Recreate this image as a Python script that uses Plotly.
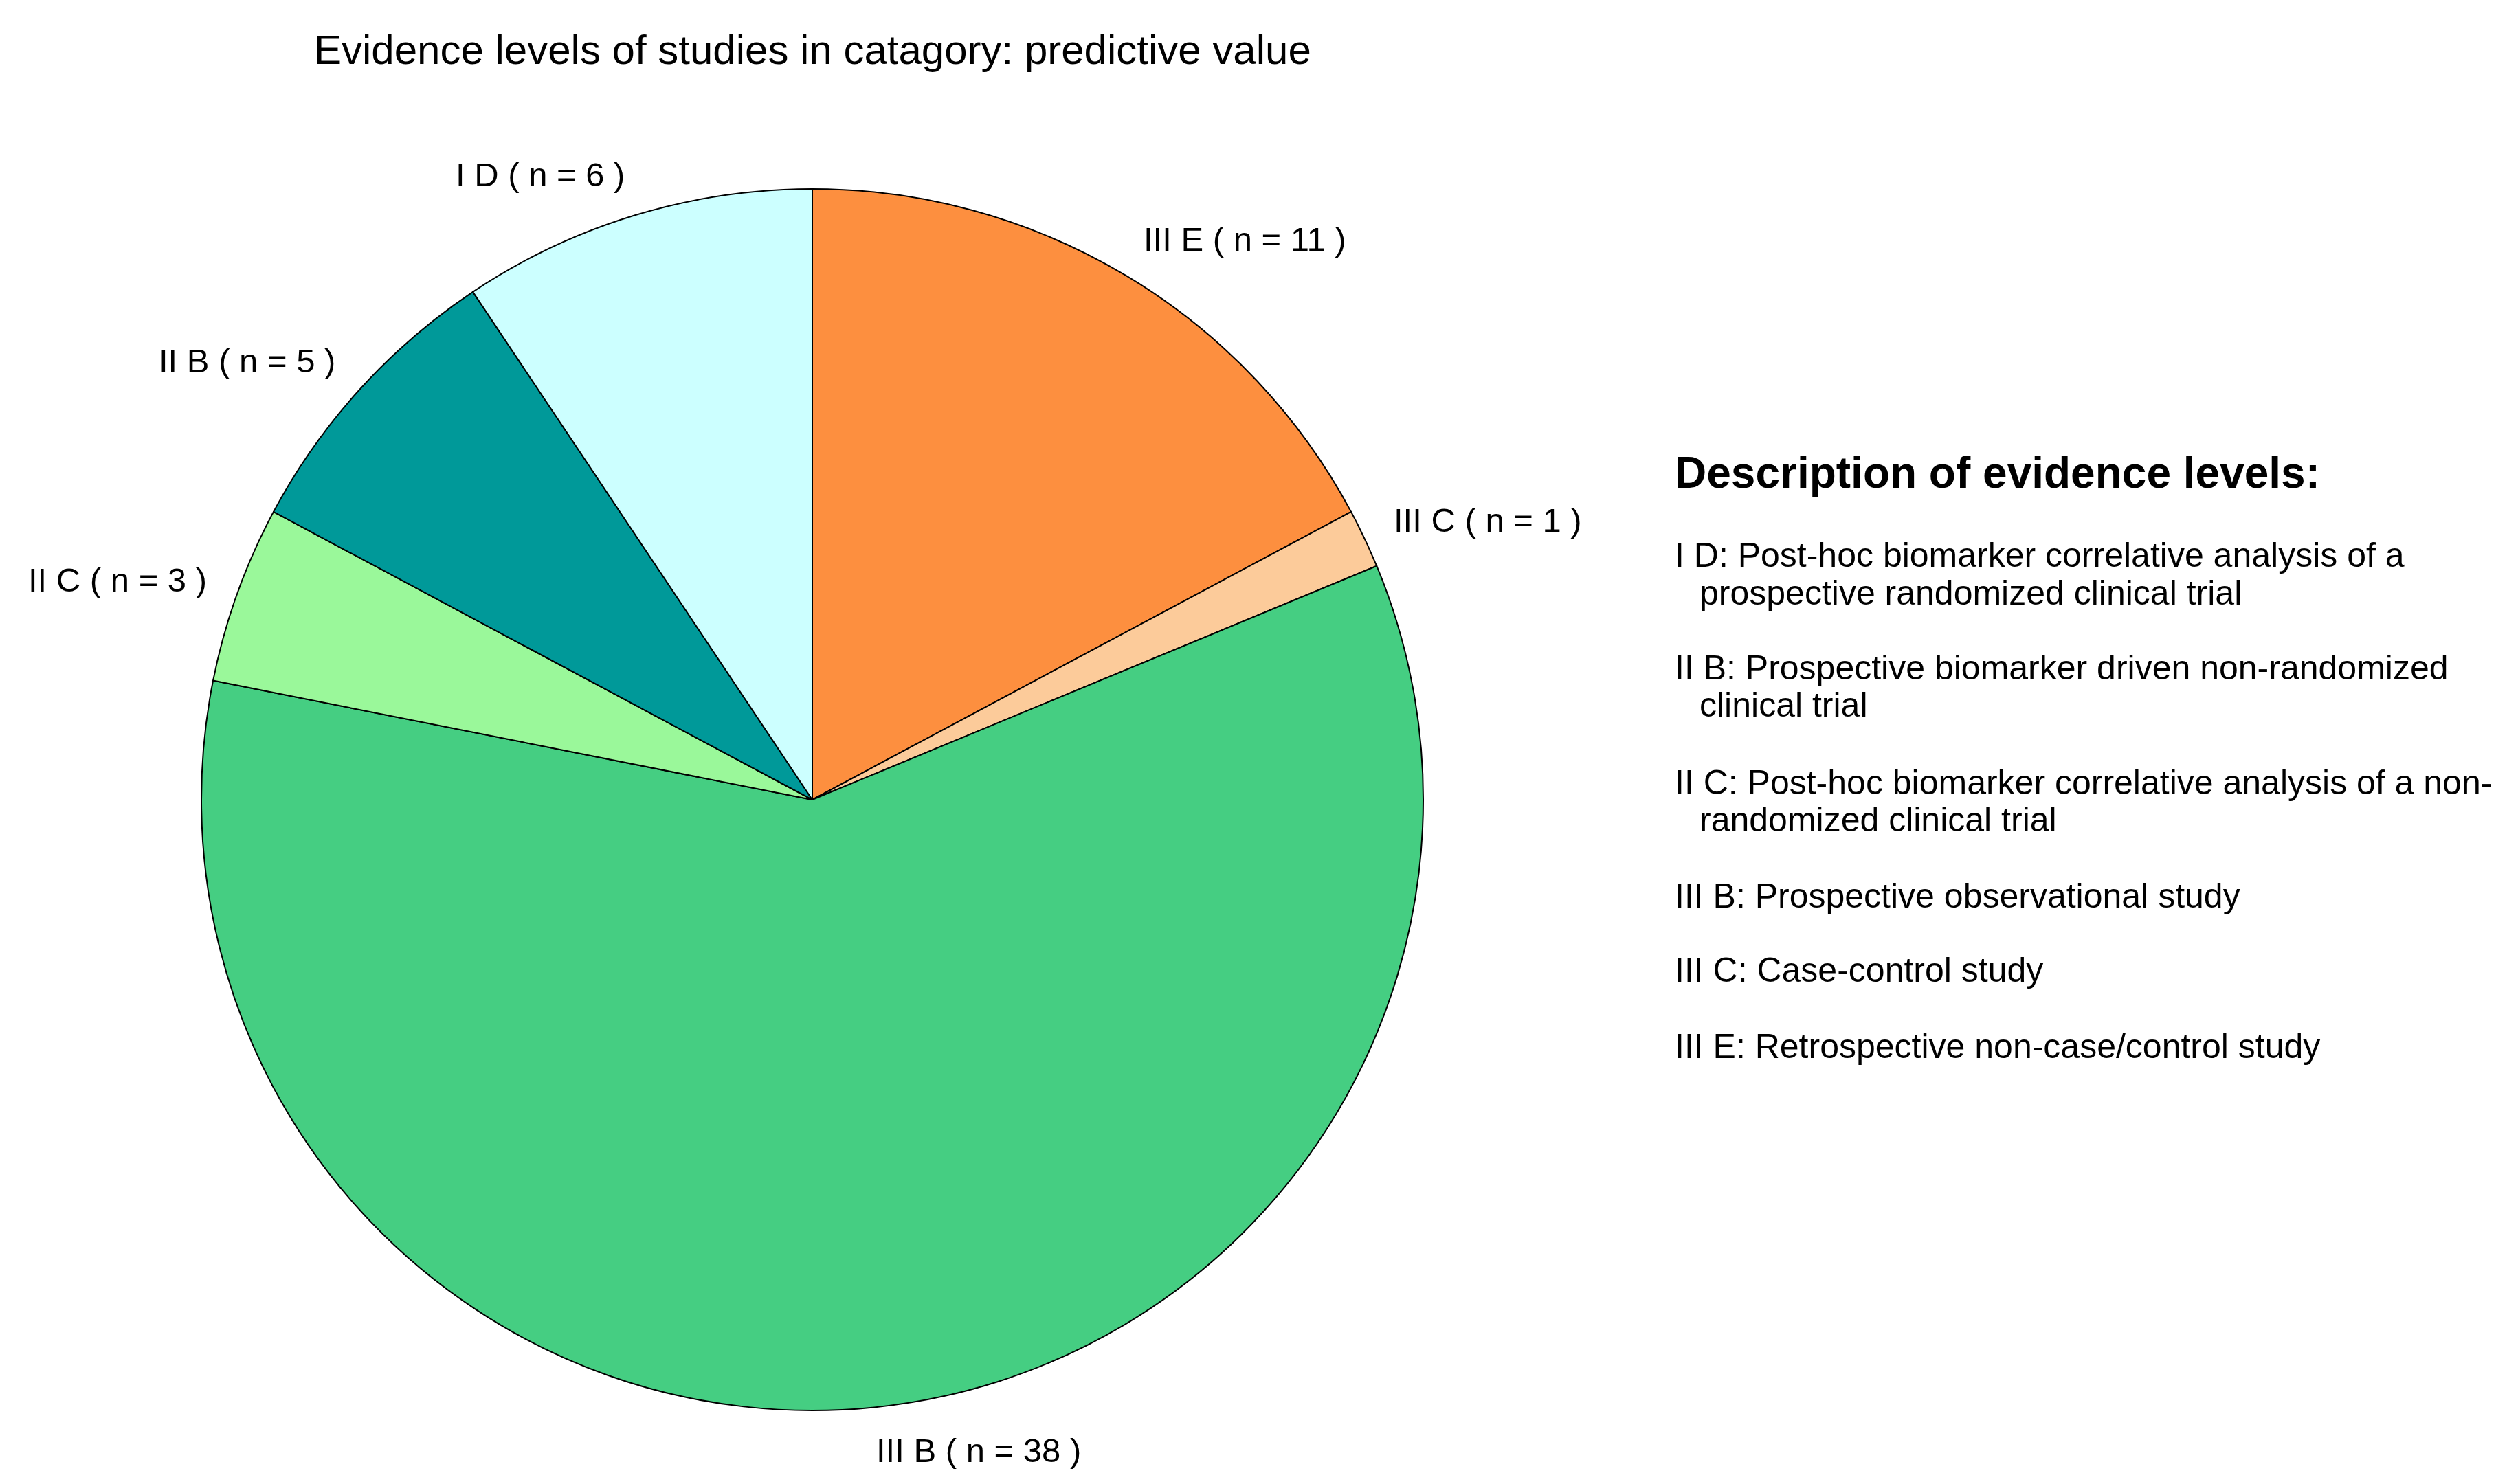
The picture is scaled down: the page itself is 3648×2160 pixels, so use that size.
import math
import plotly.graph_objects as go

# ---- data ----
levels = ["III E", "III C", "III B", "II C", "II B", "I D"]
counts = [11, 1, 38, 3, 5, 6]
colors = ["#FD8F3F", "#FCCB9A", "#45CE82", "#9AF89A", "#009999", "#CCFFFF"]
title_text = "Evidence levels of studies in catagory: predictive value"
desc_heading = "Description of evidence levels:"
desc_items = [
    ["I D: Post-hoc biomarker correlative analysis of a", "prospective randomized clinical trial"],
    ["II B: Prospective biomarker driven non-randomized", "clinical trial"],
    ["II C: Post-hoc biomarker correlative analysis of a non-", "randomized clinical trial"],
    ["III B: Prospective observational study"],
    ["III C: Case-control study"],
    ["III E: Retrospective non-case/control study"],
]

# ---- layout geometry (pixels) ----
W, H = 3648, 2160
CX, CY, R = 1174, 1156, 889
FONT = "Liberation Sans, Arial, sans-serif"

def px_x(x):
    return x / W

def px_y(y):
    return 1 - y / H

fig = go.Figure()
fig.add_trace(go.Pie(
    labels=levels,
    values=counts,
    sort=False,
    direction="clockwise",
    rotation=0,
    marker=dict(colors=colors, line=dict(color="#000000", width=2)),
    textinfo="none",
    hoverinfo="label+value",
    showlegend=False,
    domain=dict(x=[px_x(CX - R), px_x(CX + R)], y=[px_y(CY + R), px_y(CY - R)]),
))

annotations = []
# slice labels, placed at mid-angle of each slice just outside the pie
total = sum(counts)
cum = 0
for lab, v in zip(levels, counts):
    mid = (cum + v / 2) / total * 2 * math.pi
    cum += v
    sx, cy_ = math.sin(mid), math.cos(mid)
    x = CX + 1.05 * R * sx
    y = CY - 1.07 * R * cy_
    annotations.append(dict(
        x=px_x(x), y=px_y(y), xref="paper", yref="paper",
        text=f"{lab} ( n = {v} )", showarrow=False,
        xanchor="left" if sx > 0 else "right", yanchor="middle",
        font=dict(family=FONT, size=49, color="#000000"),
    ))

# title
annotations.append(dict(
    x=px_x(CX), y=px_y(65), xref="paper", yref="paper",
    text=title_text, showarrow=False, xanchor="center", yanchor="middle",
    font=dict(family=FONT, size=60, color="#000000"),
))

# description block
LX, IX = 2427, 2463
annotations.append(dict(
    x=px_x(LX), y=px_y(680), xref="paper", yref="paper",
    text=f"<b>{desc_heading}</b>", showarrow=False, xanchor="left", yanchor="middle",
    font=dict(family=FONT, size=64, color="#000000"),
))
line_ys = [[800, 855], [964, 1018], [1131, 1185], [1296], [1404], [1515]]
for item, ys in zip(desc_items, line_ys):
    for j, (txt, yy) in enumerate(zip(item, ys)):
        annotations.append(dict(
            x=px_x(LX if j == 0 else IX), y=px_y(yy), xref="paper", yref="paper",
            text=txt, showarrow=False, xanchor="left", yanchor="middle",
            font=dict(family=FONT, size=50, color="#000000"),
        ))

fig.update_layout(
    width=W, height=H,
    margin=dict(l=0, r=0, t=0, b=0),
    paper_bgcolor="#FFFFFF", plot_bgcolor="#FFFFFF",
    annotations=annotations,
    showlegend=False,
)
fig.write_html("out.html")
